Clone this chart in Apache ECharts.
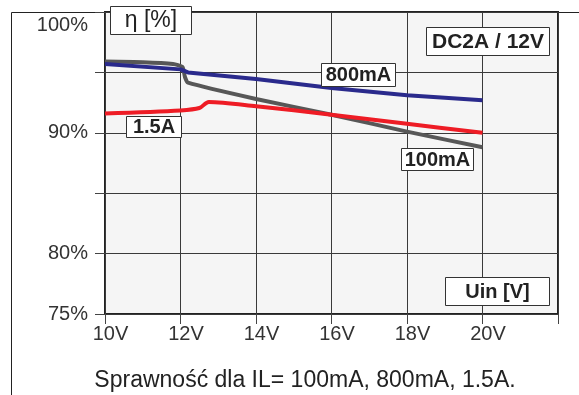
<!DOCTYPE html>
<html><head><meta charset="utf-8">
<script src="https://cdn.jsdelivr.net/npm/echarts@6/dist/echarts.min.js"></script>
<style>html,body{margin:0;padding:0;background:#fff}#c{width:579px;height:395px}</style>
</head><body><div id="c"></div>
<script>
// Data (Uin [V], efficiency [%])
const s100mA_x = [10, 11, 11.8, 12.05, 12.12, 12.2, 14, 16, 18, 20];
const s100mA_y = [95.9, 95.85, 95.7, 95.45, 94.6, 94.15, 92.8, 91.5, 90.1, 88.8];
const s800mA_x = [10, 12, 12.2, 14, 16, 18, 20];
const s800mA_y = [95.7, 95.25, 95.0, 94.45, 93.7, 93.1, 92.7];
const s15A_x = [10, 12, 12.5, 12.75, 14, 16, 18, 20];
const s15A_y = [91.6, 91.85, 92.05, 92.55, 92.2, 91.5, 90.75, 90.0];
const xTicks = [10, 12, 14, 16, 18, 20];
const yTicks = [75, 80, 90, 100];

const zip = (xs, ys) => xs.map((x, i) => [x, ys[i]]);
const chart = echarts.init(document.getElementById('c'), null, {renderer: 'canvas'});
const FONT = 'Liberation Sans, Arial, sans-serif';

function box(x, y, w, h, text, size, bold) {
  return [
    {type: 'rect', shape: {x: x + 0.5, y: y + 0.5, width: w, height: h}, style: {fill: '#fff', stroke: '#333', lineWidth: 1}, z: 100},
    {type: 'text', x: x + w / 2 + 0.5, y: y + h / 2 + 1, z: 101,
     style: {text: text, fill: '#222', font: (bold ? 'bold ' : '') + size + 'px ' + FONT, textAlign: 'center', textVerticalAlign: 'middle'}}
  ];
}

chart.setOption({
  animation: false,
  backgroundColor: '#fff',
  grid: {left: 105, top: 12, width: 453, height: 302, show: true, backgroundColor: '#f5f5f5', borderColor: '#222', borderWidth: 2},
  xAxis: {
    type: 'value', min: 10, max: 22, interval: 2,
    axisLine: {show: false},
    axisTick: {show: true, length: 10, lineStyle: {color: '#444'}},
    axisLabel: {margin: 10, color: '#333', fontSize: 20, fontFamily: FONT, padding: [0, 0, 0, 11],
      formatter: v => xTicks.includes(v) ? v + 'V' : ''},
    splitLine: {show: true, lineStyle: {color: '#3a3a3a', width: 1}}
  },
  yAxis: {
    type: 'value', min: 75, max: 100, interval: 5,
    axisLine: {show: false},
    axisTick: {show: true, length: 10, lineStyle: {color: '#444'}},
    axisLabel: {margin: 17, color: '#333', fontSize: 20, fontFamily: FONT,
      formatter: v => v === 100 ? '{top|100%}' : (yTicks.includes(v) ? v + '%' : ''),
      rich: {top: {fontSize: 20, fontFamily: FONT, color: '#333', padding: [26, 0, 0, 0]}}},
    splitLine: {show: true, lineStyle: {color: '#3a3a3a', width: 1}}
  },
  series: [
    {name: '100mA', type: 'line', data: zip(s100mA_x, s100mA_y), showSymbol: false, smooth: 0.2,
     lineStyle: {color: '#575757', width: 4}, z: 3},
    {name: '800mA', type: 'line', data: zip(s800mA_x, s800mA_y), showSymbol: false,
     lineStyle: {color: '#2a2a8c', width: 4}, z: 4},
    {name: '1.5A', type: 'line', data: zip(s15A_x, s15A_y), showSymbol: false, smooth: 0.3,
     lineStyle: {color: '#ee1c25', width: 4}, z: 5}
  ],
  graphic: [
    {type: 'line', shape: {x1: 11.5, y1: 12.5, x2: 579, y2: 12.5}, style: {stroke: '#222', lineWidth: 1}, z: 0},
    {type: 'line', shape: {x1: 11.5, y1: 12.5, x2: 11.5, y2: 395}, style: {stroke: '#222', lineWidth: 1}, z: 0},
    ...box(110, 6, 81, 28, 'η [%]', 23, false),
    ...box(426, 27, 123, 28, 'DC2A / 12V', 21, true),
    ...box(321, 63, 74, 23, '800mA', 20, true),
    ...box(401, 148, 72, 22, '100mA', 20, true),
    ...box(126, 116, 55, 21, '1.5A', 20, true),
    ...box(445, 277, 104, 28, 'Uin [V]', 20, true),
    {type: 'text', x: 305, y: 381, z: 101,
     style: {text: 'Sprawność dla IL= 100mA, 800mA, 1.5A.', fill: '#222', font: '23px ' + FONT, textAlign: 'center', textVerticalAlign: 'middle'}}
  ]
});
</script>
</body></html>
